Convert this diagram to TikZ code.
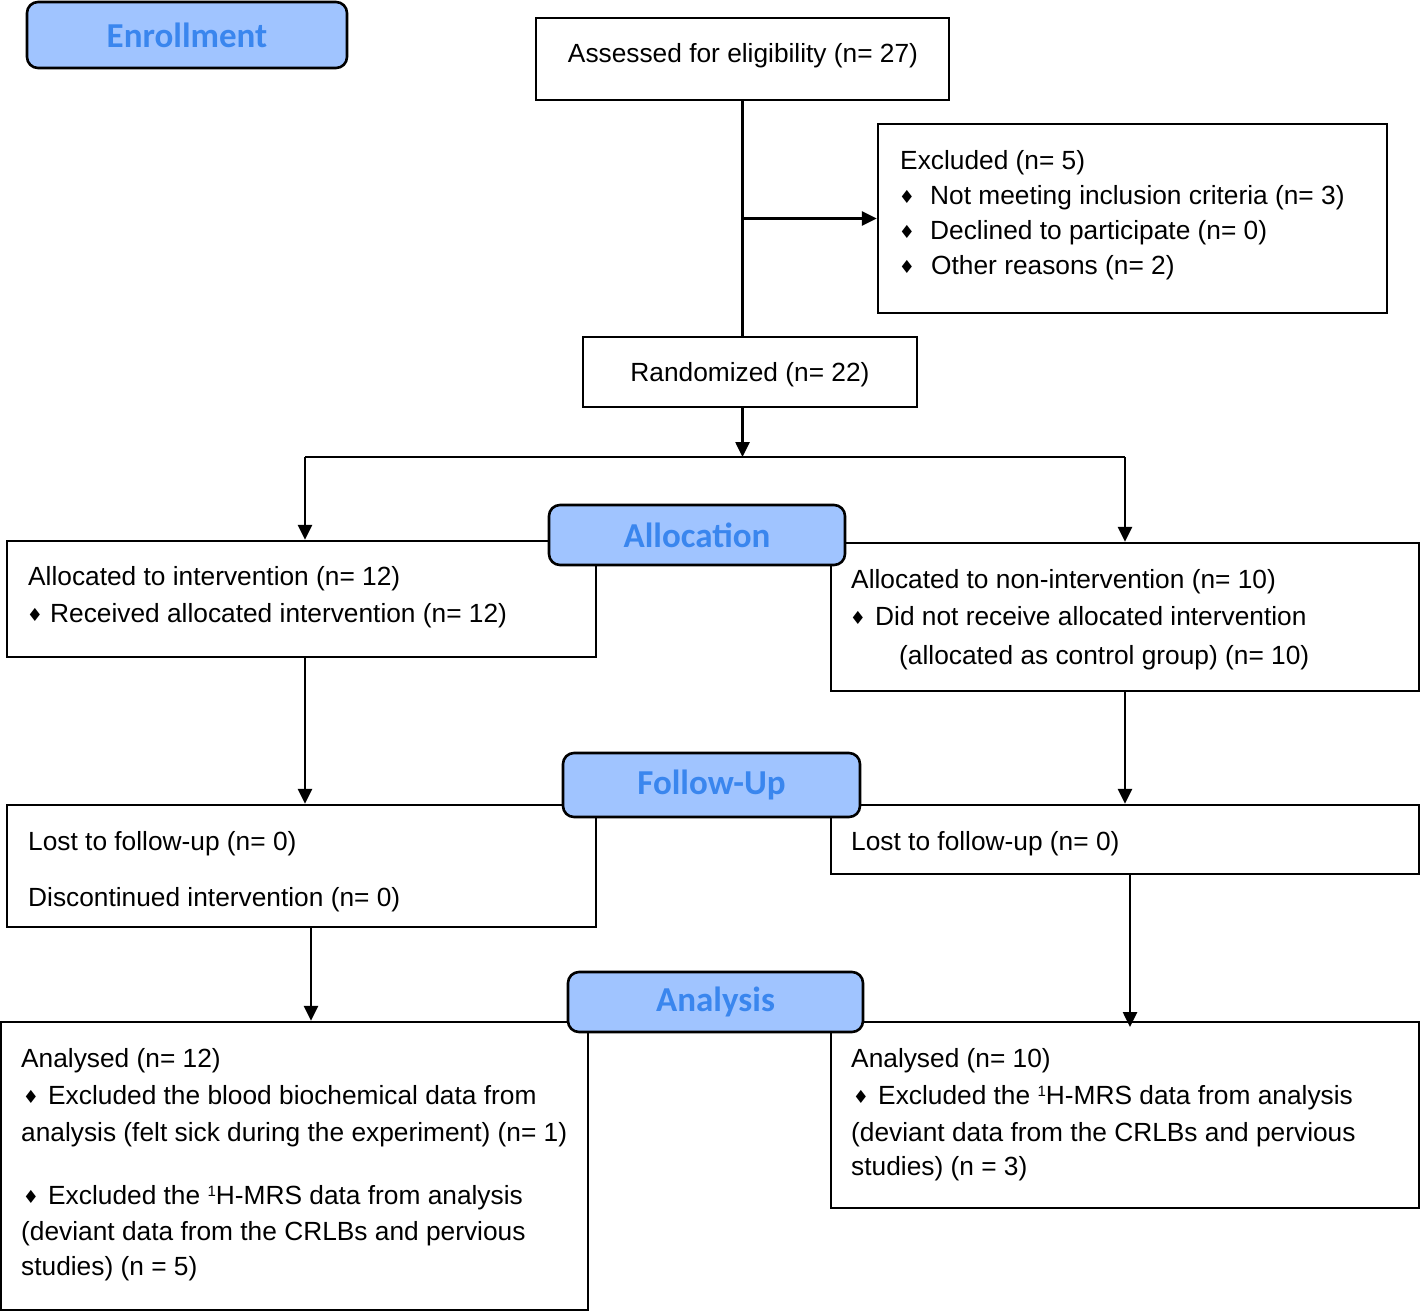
\documentclass[tikz,border=0pt]{standalone}
\usepackage{fontspec}
\setmainfont{Liberation Sans}
\newfontfamily\headfont{Carlito}
\newfontfamily\symfont{DejaVu Sans}
\usetikzlibrary{arrows.meta}
\definecolor{headfill}{RGB}{160,196,255}
\definecolor{headtext}{RGB}{58,134,238}
\newcommand{\supone}{{\fontsize{15}{15}\selectfont\raisebox{8pt}{1}}}
\tikzset{
  box/.style={draw, line width=2.4pt, inner sep=0pt, fill=white},
  head/.style={draw, line width=2.6pt, rounded corners=11pt, fill=headfill,
    text=headtext, inner sep=0pt, font=\headfont\bfseries\fontsize{35}{35}\selectfont},
  txt/.style={anchor=base west, inner sep=0pt, font=\fontsize{26.3}{30}\selectfont},
  bul/.style={anchor=base, inner sep=0pt, font=\symfont\fontsize{18}{18}\selectfont},
  arr/.style={line width=2.6pt, -{Triangle[length=15pt,width=14pt]}},
  link/.style={line width=2.6pt}
}
\begin{document}
\begin{tikzpicture}[x=1pt,y=-1pt]
  \useasboundingbox (0,0) rectangle (1420,1312);
  % boxes
  \node[box, minimum width=413, minimum height=82] (assess) at (742.5,59) {};
  \node[box, minimum width=509, minimum height=189] (excl) at (1132.5,218.5) {};
  \node[box, minimum width=334, minimum height=70] (rand) at (750,372) {};
  \node[box, minimum width=589, minimum height=116] (allocL) at (301.5,599) {};
  \node[box, minimum width=588, minimum height=148] (allocR) at (1125,617) {};
  \node[box, minimum width=589, minimum height=122] (fuL) at (301.5,866) {};
  \node[box, minimum width=588, minimum height=69] (fuR) at (1125,839.5) {};
  \node[box, minimum width=587, minimum height=288] (anL) at (294.5,1166) {};
  \node[box, minimum width=588, minimum height=186] (anR) at (1125,1115) {};
  % headers
  \node[head, minimum width=320, minimum height=66] (enroll) at (187,35) {Enrollment};
  \node[head, minimum width=296, minimum height=60] (alloc) at (697,535) {\raisebox{-3pt}{Allocation}};
  \node[head, minimum width=297, minimum height=64] (follow) at (711.5,785) {\raisebox{-2pt}{Follow-Up}};
  \node[head, minimum width=295, minimum height=60] (anal) at (715.5,1002) {\raisebox{-3pt}{Analysis}};
  % texts
  \node[txt, anchor=base] (t1) at (743,62) {Assessed for eligibility (n= 27)};
  \node[txt] (t2) at (900,169) {Excluded (n= 5)};
  \node[bul] (b1) at (907,203) {♦};
  \node[txt] (t3) at (930,204) {Not meeting inclusion criteria (n= 3)};
  \node[bul] (b2) at (907,238) {♦};
  \node[txt] (t4) at (930,239) {Declined to participate (n= 0)};
  \node[bul] (b3) at (907,273) {♦};
  \node[txt] (t5) at (931,274) {Other reasons (n= 2)};
  \node[txt, anchor=base] (t6) at (750,381) {Randomized (n= 22)};
  \node[txt] (t7) at (28,585) {Allocated to intervention (n= 12)};
  \node[bul] (b4) at (35,621) {♦};
  \node[txt] (t8) at (50,622) {Received allocated intervention (n= 12)};
  \node[txt] (t9) at (851,588) {Allocated to non-intervention (n= 10)};
  \node[bul] (b5) at (858,624) {♦};
  \node[txt] (t10) at (875,625) {Did not receive allocated intervention};
  \node[txt] (t11) at (899,664) {(allocated as control group) (n= 10)};
  \node[txt] (t12) at (28,850) {Lost to follow-up (n= 0)};
  \node[txt] (t13) at (28,906) {Discontinued intervention (n= 0)};
  \node[txt] (t14) at (851,850) {Lost to follow-up (n= 0)};
  \node[txt] (t15) at (21,1067) {Analysed (n= 12)};
  \node[bul] (b6) at (31,1103) {♦};
  \node[txt] (t16) at (48,1104) {Excluded the blood biochemical data from};
  \node[txt] (t17) at (21,1141) {analysis (felt sick during the experiment) (n= 1)};
  \node[bul] (b7) at (31,1203) {♦};
  \node[txt] (t18) at (48,1204) {Excluded the \supone H-MRS data from analysis};
  \node[txt] (t19) at (21,1240) {(deviant data from the CRLBs and pervious};
  \node[txt] (t20) at (21,1275) {studies) (n = 5)};
  \node[txt] (t21) at (851,1067) {Analysed (n= 10)};
  \node[bul] (b8) at (861,1103) {♦};
  \node[txt] (t22) at (878,1104) {Excluded the \supone H-MRS data from analysis};
  \node[txt] (t23) at (851,1141) {(deviant data from the CRLBs and pervious};
  \node[txt] (t24) at (851,1175) {studies) (n = 3)};
  % connectors
  \coordinate (split) at (742.5,457);
  \coordinate (sL) at (305,457);
  \coordinate (sR) at (1125,457);
  \draw[link] (assess.south) -- (assess.south |- rand.north);
  \draw[arr] (assess.south |- excl.west) -- (excl.west);
  \draw[arr] (assess.south |- rand.south) -- (split);
  \draw[link] (sL) -- (sR);
  \draw[arr] (sL) -- (sL |- allocL.north);
  \draw[arr] (sR) -- (sR |- allocR.north);
  \draw[arr] (sL |- allocL.south) -- (sL |- fuL.north);
  \draw[arr] (allocR.south) -- (allocR.south |- fuR.north);
  \draw[arr] (311,927) coordinate (fL) -- (fL |- anL.north);
  \draw[arr] (1130,874) coordinate (fR) -- ++(0,153);
\end{tikzpicture}
\end{document}
